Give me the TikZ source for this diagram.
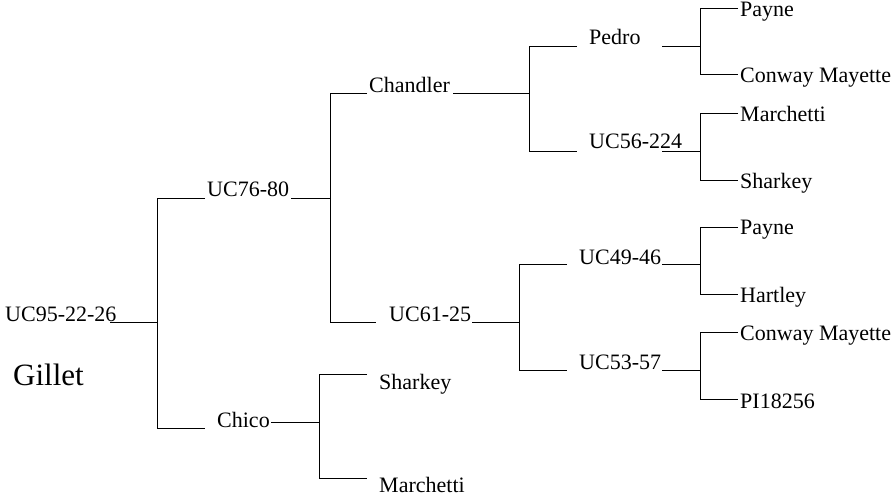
\documentclass[tikz,border=0pt]{standalone}
\usepackage{fontspec}
\setmainfont{Liberation Serif}
\begin{document}
\begin{tikzpicture}[x=1pt,y=-1pt,
  lab/.style={anchor=base west,inner sep=0pt,font=\fontsize{22}{26}\selectfont},
  big/.style={anchor=base west,inner sep=0pt,font=\fontsize{31}{36}\selectfont},
  edge/.style={draw=black,line width=1pt}]
\useasboundingbox (0,0) rectangle (895,497);
% labels
\node[lab] (r)   at (5,322)   {UC95-22-26};
\node[big] (g)   at (13,385)  {Gillet};
\node[lab] (a)   at (207,197) {UC76-80};
\node[lab] (ch)  at (217,427) {Chico};
\node[lab] (cd)  at (369,93)  {Chandler};
\node[lab] (u61) at (389,322) {UC61-25};
\node[lab] (pe)  at (589,45)  {Pedro};
\node[lab] (u56) at (589,149) {UC56-224};
\node[lab] (u49) at (579,265) {UC49-46};
\node[lab] (u53) at (579,369) {UC53-57};
\node[lab] (sh1) at (379,389) {Sharkey};
\node[lab] (ma1) at (379,492) {Marchetti};
\node[lab] (l1)  at (740,17)  {Payne};
\node[lab] (l2)  at (740,83)  {Conway Mayette};
\node[lab] (l3)  at (740,122) {Marchetti};
\node[lab] (l4)  at (740,189) {Sharkey};
\node[lab] (l5)  at (740,235) {Payne};
\node[lab] (l6)  at (740,303) {Hartley};
\node[lab] (l7)  at (740,341) {Conway Mayette};
\node[lab] (l8)  at (740,408) {PI18256};
% junction coordinates
\coordinate (r0) at (110,323);
\coordinate (r1) at (157,323);
\coordinate (rt) at (157,199); \coordinate (rte) at (205,199);
\coordinate (rb) at (157,428); \coordinate (rbe) at (205,428);
\coordinate (a0) at (291,199); \coordinate (a1) at (330,199);
\coordinate (at) at (330,94);  \coordinate (ate) at (367,94);
\coordinate (ab) at (330,323); \coordinate (abe) at (376,323);
\coordinate (c0) at (453,94);  \coordinate (c1) at (529,94);
\coordinate (ct) at (529,47);  \coordinate (cte) at (577,47);
\coordinate (cb) at (529,152); \coordinate (cbe) at (577,152);
\coordinate (p0) at (662,47);  \coordinate (p1) at (700,47);
\coordinate (pt) at (700,9);   \coordinate (pte) at (738,9);
\coordinate (pb) at (700,75);  \coordinate (pbe) at (738,75);
\coordinate (s0) at (662,152); \coordinate (s1) at (700,152);
\coordinate (st) at (700,114); \coordinate (ste) at (738,114);
\coordinate (sb) at (700,181); \coordinate (sbe) at (738,181);
\coordinate (u0) at (472,323); \coordinate (u1) at (519,323);
\coordinate (ut) at (519,265); \coordinate (ute) at (567,265);
\coordinate (ub) at (519,370); \coordinate (ube) at (567,370);
\coordinate (v0) at (662,265); \coordinate (v1) at (700,265);
\coordinate (vt) at (700,228); \coordinate (vte) at (738,228);
\coordinate (vb) at (700,295); \coordinate (vbe) at (738,295);
\coordinate (w0) at (662,370); \coordinate (w1) at (700,370);
\coordinate (wt) at (700,333); \coordinate (wte) at (738,333);
\coordinate (wb) at (700,399); \coordinate (wbe) at (738,399);
\coordinate (h0) at (271,422); \coordinate (h1) at (319,422);
\coordinate (ht) at (319,374); \coordinate (hte) at (367,374);
\coordinate (hb) at (319,478); \coordinate (hbe) at (367,478);
% connectors
\draw[edge] (r0) -- (r1);
\draw[edge] (rte) -- (rt) -- (rb) -- (rbe);
\draw[edge] (a0) -- (a1);
\draw[edge] (ate) -- (at) -- (ab) -- (abe);
\draw[edge] (c0) -- (c1);
\draw[edge] (cte) -- (ct) -- (cb) -- (cbe);
\draw[edge] (p0) -- (p1);
\draw[edge] (pte) -- (pt) -- (pb) -- (pbe);
\draw[edge] (s0) -- (s1);
\draw[edge] (ste) -- (st) -- (sb) -- (sbe);
\draw[edge] (u0) -- (u1);
\draw[edge] (ute) -- (ut) -- (ub) -- (ube);
\draw[edge] (v0) -- (v1);
\draw[edge] (vte) -- (vt) -- (vb) -- (vbe);
\draw[edge] (w0) -- (w1);
\draw[edge] (wte) -- (wt) -- (wb) -- (wbe);
\draw[edge] (h0) -- (h1);
\draw[edge] (hte) -- (ht) -- (hb) -- (hbe);
\end{tikzpicture}
\end{document}
